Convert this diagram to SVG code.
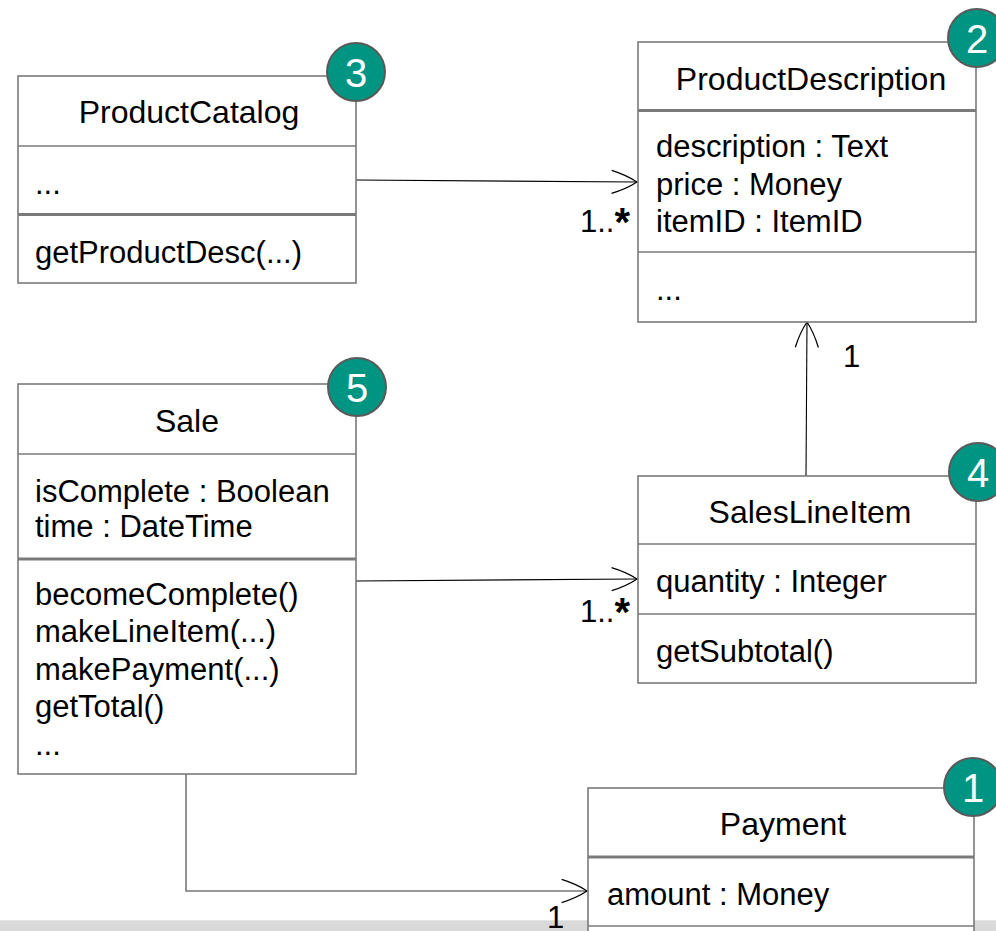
<svg xmlns="http://www.w3.org/2000/svg" width="996" height="931" viewBox="0 0 996 931">
<defs>
<style>
.box{fill:#ffffff;stroke:#7a7a7a;stroke-width:1.6}
.sep{stroke:#7a7a7a;stroke-width:1.6}
.sep2{stroke:#7a7a7a;stroke-width:3.2}
.t{font-family:"Liberation Sans",Arial,sans-serif;font-size:31px;fill:#000}
.h{font-size:32px}
.c{text-anchor:middle}
.ast{font-size:40px;font-weight:bold}
.badge circle{fill:#009482;stroke:#5a5a5a;stroke-width:2}
.badge text{font-family:"Liberation Sans",Arial,sans-serif;font-size:40px;fill:#ffffff;text-anchor:middle}
.conn{fill:none;stroke:#000;stroke-width:1.1}
.conng{fill:none;stroke:#777;stroke-width:1.6}
</style>
<marker id="open" markerUnits="userSpaceOnUse" markerWidth="30" markerHeight="30" viewBox="-24 -12 26 24" refX="0" refY="0" orient="auto">
<path d="M-22,-10 Q-9,-6 0,0 Q-9,6 -22,10" fill="none" stroke="#000" stroke-width="1.1"/>
</marker>
</defs>
<rect x="0" y="920" width="996" height="11" fill="#d9d9d9"/>
<line x1="0" y1="920.5" x2="996" y2="920.5" stroke="#e6e6e6" stroke-width="1"/>

<g id="connectors">
<path class="conn" d="M356,180 L637,182" marker-end="url(#open)"/>
<path class="conn" d="M806,476 L807,322" marker-end="url(#open)"/>
<path class="conn" d="M356,581 L637,579" marker-end="url(#open)"/>
<path class="conng" d="M186,774 L186,891 L587,891" marker-end="url(#open)"/>
<text class="t" x="580" y="232">1..<tspan class="ast" dy="4">*</tspan></text>
<text class="t" x="843" y="367">1</text>
<text class="t" x="580" y="622">1..<tspan class="ast" dy="4">*</tspan></text>
<text class="t" x="547" y="928">1</text>
</g>

<g id="ProductCatalog">
<rect class="box" x="18" y="76" width="338" height="207"/>
<line class="sep" x1="18" y1="146" x2="356" y2="146"/>
<line class="sep2" x1="18" y1="214.5" x2="356" y2="214.5"/>
<text class="t h c" x="189" y="123">ProductCatalog</text>
<text class="t" x="35" y="194">...</text>
<text class="t" x="35" y="263">getProductDesc(...)</text>
</g>

<g id="ProductDescription">
<rect class="box" x="638" y="42" width="338" height="280"/>
<line class="sep2" x1="638" y1="110.5" x2="976" y2="110.5"/>
<line class="sep" x1="638" y1="252" x2="976" y2="252"/>
<text class="t h c" x="811" y="90">ProductDescription</text>
<text class="t" x="656" y="157">description : Text</text>
<text class="t" x="656" y="195">price : Money</text>
<text class="t" x="656" y="232">itemID : ItemID</text>
<text class="t" x="656" y="300">...</text>
</g>

<g id="Sale">
<rect class="box" x="18" y="384" width="338" height="390"/>
<line class="sep" x1="18" y1="454" x2="356" y2="454"/>
<line class="sep2" x1="18" y1="559" x2="356" y2="559"/>
<text class="t h c" x="187" y="432">Sale</text>
<text class="t" x="35" y="502">isComplete : Boolean</text>
<text class="t" x="35" y="537">time : DateTime</text>
<text class="t" x="35" y="605">becomeComplete()</text>
<text class="t" x="35" y="642">makeLineItem(...)</text>
<text class="t" x="35" y="680">makePayment(...)</text>
<text class="t" x="35" y="717">getTotal()</text>
<text class="t" x="35" y="755">...</text>
</g>

<g id="SalesLineItem">
<rect class="box" x="638" y="476" width="338" height="207"/>
<line class="sep" x1="638" y1="544" x2="976" y2="544"/>
<line class="sep" x1="638" y1="614" x2="976" y2="614"/>
<text class="t h c" x="810" y="523">SalesLineItem</text>
<text class="t" x="656" y="592">quantity : Integer</text>
<text class="t" x="656" y="662">getSubtotal()</text>
</g>

<g id="Payment">
<rect class="box" x="588" y="788" width="386" height="180"/>
<line class="sep2" x1="588" y1="857" x2="974" y2="857"/>
<line class="sep" x1="588" y1="926" x2="974" y2="926"/>
<text class="t h c" x="783" y="835">Payment</text>
<text class="t" x="607" y="905">amount : Money</text>
</g>

<g id="badge3" class="badge"><circle cx="356" cy="72" r="29"/><text x="356" y="87">3</text></g>
<g id="badge2" class="badge"><circle cx="977" cy="38" r="29"/><text x="977" y="53">2</text></g>
<g id="badge5" class="badge"><circle cx="357" cy="387" r="29"/><text x="357" y="402">5</text></g>
<g id="badge4" class="badge"><circle cx="978" cy="472" r="29"/><text x="978" y="487">4</text></g>
<g id="badge1" class="badge"><circle cx="973" cy="787" r="29"/><text x="973" y="802">1</text></g>
</svg>
